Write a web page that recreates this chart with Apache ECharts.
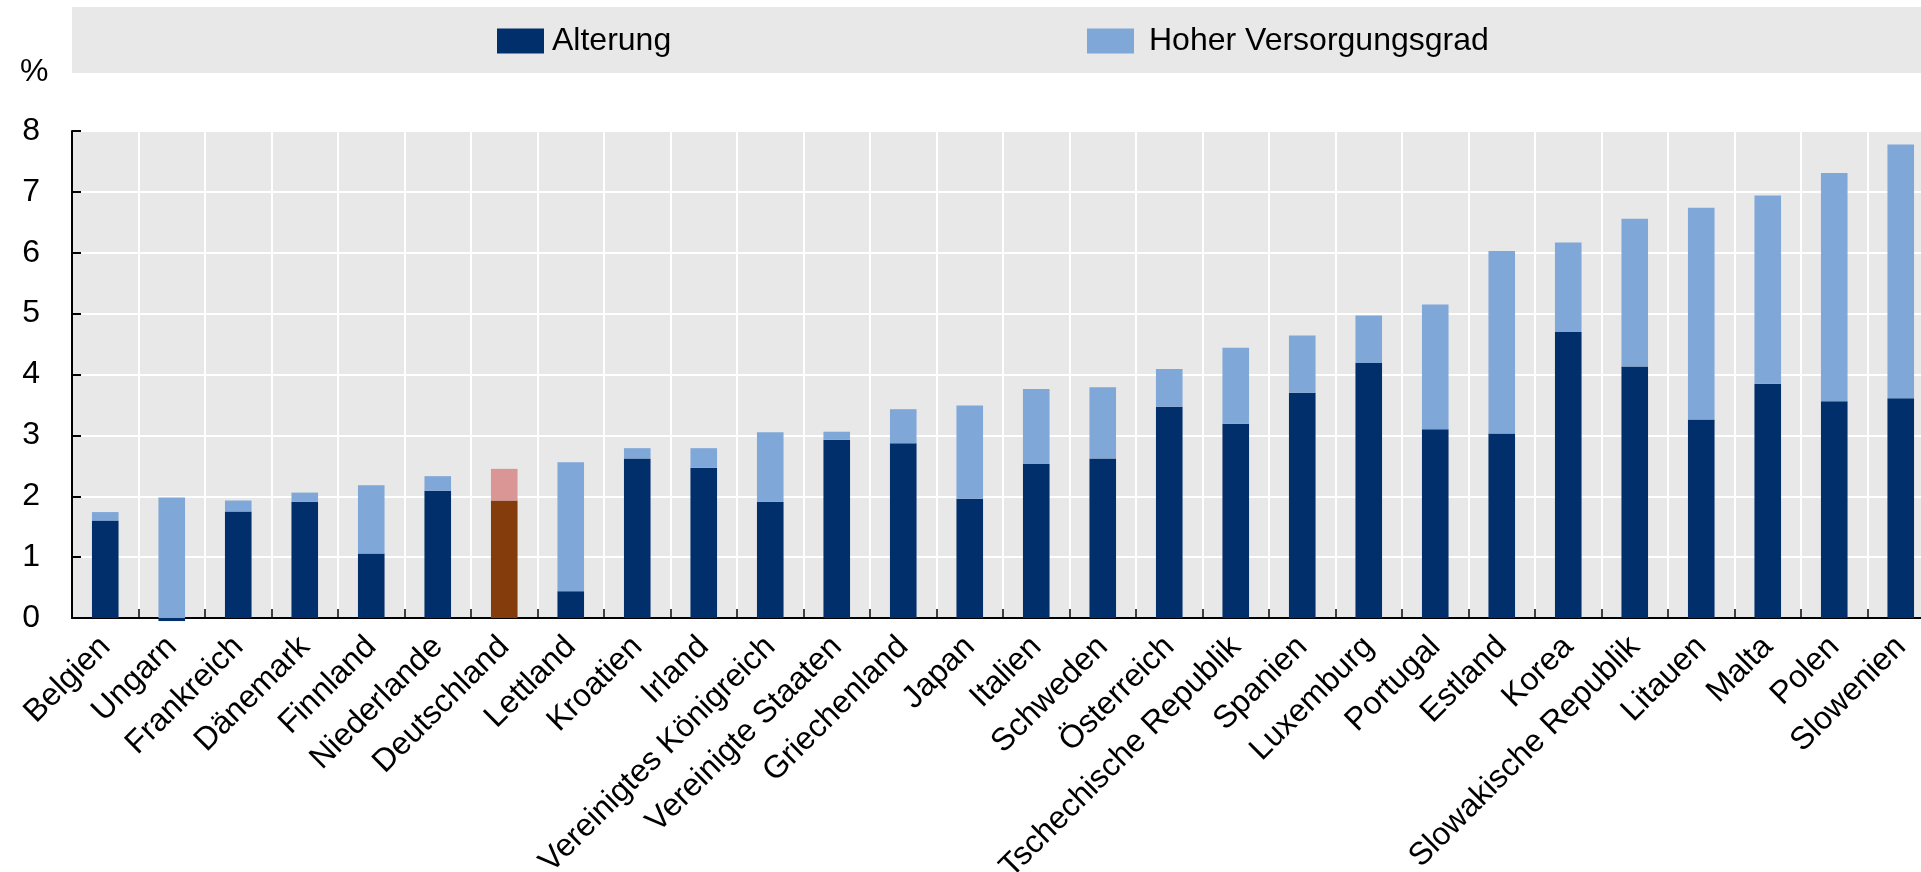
<!DOCTYPE html>
<html>
<head>
<meta charset="utf-8">
<script src="https://cdn.jsdelivr.net/npm/echarts@6/dist/echarts.min.js"></script>
<style>
	html, body { margin: 0; padding: 0; background: #fff; overflow: hidden; }
	/* plot runs past the right edge of the picture, like the original */
	#chart { width: 1934px; height: 872px; }
</style>
</head>
<body>
<div id="chart"></div>
<script>
// Länder
var countries = [
	'Belgien', 'Ungarn', 'Frankreich', 'Dänemark', 'Finnland', 'Niederlande', 'Deutschland',
	'Lettland', 'Kroatien', 'Irland', 'Vereinigtes Königreich', 'Vereinigte Staaten', 'Griechenland',
	'Japan', 'Italien', 'Schweden', 'Österreich', 'Tschechische Republik', 'Spanien', 'Luxemburg',
	'Portugal', 'Estland', 'Korea', 'Slowakische Republik', 'Litauen', 'Malta', 'Polen', 'Slowenien'
];
// Alterung
var ageing = [
	1.60, -0.05, 1.75, 1.91, 1.06, 2.09, 1.93,
	0.44, 2.62, 2.47, 1.91, 2.93, 2.87,
	1.96, 2.53, 2.62, 3.47, 3.19, 3.70, 4.19,
	3.10, 3.03, 4.70, 4.13, 3.26, 3.85, 3.56, 3.61
];
// Hoher Versorgungsgrad
var coverage = [
	0.14, 1.98, 0.18, 0.15, 1.12, 0.24, 0.52,
	2.12, 0.17, 0.32, 1.14, 0.13, 0.56,
	1.53, 1.23, 1.17, 0.62, 1.25, 0.94, 0.78,
	2.05, 3.00, 1.47, 2.43, 3.48, 3.09, 3.75, 4.17
];
var yTicks = [0, 1, 2, 3, 4, 5, 6, 7, 8];

var highlight = 'Deutschland';
var font = "'Liberation Sans', Arial, sans-serif";
var fs = 32;

var myChart = echarts.init(document.getElementById('chart'), null, { renderer: 'canvas' });

var option = {
	animation: false,
	textStyle: { fontFamily: font },
	graphic: [
		// grauer Legendenbalken
		{ type: 'rect', left: 72, top: 7, shape: { width: 1862, height: 66 }, style: { fill: '#e8e8e8' }, z: -1 },
		{ type: 'text', left: 20, top: 56, style: { text: '%', fontSize: fs, fontFamily: font, fill: '#000' } }
	],
	legend: [
		{
			data: [ 'Alterung' ],
			left: 497, top: 25, padding: 0,
			icon: 'rect', itemWidth: 47, itemHeight: 25,
			textStyle: { fontSize: fs, color: '#000', padding: [ 0, 0, 0, 3 ] }
		},
		{
			data: [ 'Hoher Versorgungsgrad' ],
			left: 1087, top: 25, padding: 0,
			icon: 'rect', itemWidth: 47, itemHeight: 25,
			textStyle: { fontSize: fs, color: '#000', padding: [ 0, 0, 0, 10 ] }
		}
	],
	grid: {
		left: 72, top: 131, right: 0, bottom: 254,
		outerBoundsMode: 'none',
		show: true, backgroundColor: '#e8e8e8', borderWidth: 0
	},
	xAxis: {
		type: 'category',
		data: countries,
		axisLine: { onZero: true, lineStyle: { color: '#000', width: 2 } },
		axisTick: { show: true, inside: true, length: 9, lineStyle: { color: '#000', width: 1.5 } },
		splitLine: { show: true, lineStyle: { color: '#fff', width: 2 } },
		axisLabel: { interval: 0, rotate: 45, margin: 24, fontSize: fs, color: '#000', fontFamily: font }
	},
	yAxis: {
		type: 'value',
		min: yTicks[0], max: yTicks[yTicks.length - 1], interval: 1,
		axisLine: { show: true, lineStyle: { color: '#000', width: 2 } },
		axisTick: { show: true, inside: true, length: 9, lineStyle: { color: '#000', width: 2 } },
		splitLine: { show: true, lineStyle: { color: '#fff', width: 2 } },
		axisLabel: { margin: 32, fontSize: fs, color: '#000', fontFamily: font }
	},
	series: [
		{
			name: 'Alterung',
			type: 'bar',
			stack: 'total',
			barWidth: '40%',
			clip: false,
			color: '#002f6c',
			data: ageing.map(function(v, i) {
				return countries[i] === highlight ? { value: v, itemStyle: { color: '#843c0c' } } : v;
			})
		},
		{
			name: 'Hoher Versorgungsgrad',
			type: 'bar',
			stack: 'total',
			barWidth: '40%',
			clip: false,
			color: '#7fa7d8',
			data: coverage.map(function(v, i) {
				return countries[i] === highlight ? { value: v, itemStyle: { color: '#d99694' } } : v;
			})
		}
	]
};
myChart.setOption(option);
</script>
</body>
</html>
